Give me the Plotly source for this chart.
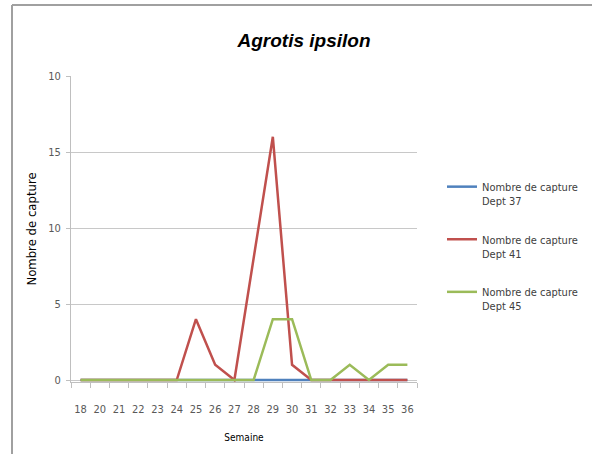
import plotly.graph_objects as go

weeks = ["18", "20", "21", "22", "23", "24", "25", "26", "27", "28",
         "29", "30", "31", "32", "33", "34", "35", "36"]
dept37 = [0, 0, 0, 0, 0, 0, 0, 0, 0, 0, 0, 0, 0, 0, 0, 0, 0, 0]
dept41 = [0, 0, 0, 0, 0, 0, 4, 1, 0, 8, 16, 1, 0, 0, 0, 0, 0, 0]
dept45 = [0, 0, 0, 0, 0, 0, 0, 0, 0, 0, 4, 4, 0, 0, 1, 0, 1, 1]
y_tickvals = [0, 5, 10, 15, 20]
y_ticktext = ["0", "5", "10", "15", "10"]

FONT = "DejaVu Sans Condensed, Liberation Sans, sans-serif"

fig = go.Figure()
series = [
    ("Nombre de capture<br>Dept 37", dept37, "#4f81bd", "g1"),
    ("Nombre de capture<br>Dept 41", dept41, "#c0504d", "g2"),
    ("Nombre de capture<br>Dept 45", dept45, "#9bbb59", "g3"),
]
for name, vals, col, grp in series:
    fig.add_trace(go.Scatter(
        x=weeks, y=vals, mode="lines", name=name, legendgroup=grp,
        line=dict(color=col, width=2.5),
    ))

W, H = 592, 454
L, T = 71, 76
PR, PB = 417, 382
R, B = W - PR, H - PB
pw, ph = PR - L, PB - T
YMIN, YMAX = -0.13, 20

def px(xr):
    return (xr - L) / pw

def py(yr):
    return (PB - yr) / ph

fig.update_layout(
    width=W, height=H,
    margin=dict(l=L, r=R, t=T, b=B, autoexpand=False),
    paper_bgcolor="white", plot_bgcolor="white",
    font=dict(family=FONT, size=11, color="#595959"),
    title=dict(text="<b><i>Agrotis ipsilon</i></b>", x=px(304), xanchor="center",
               xref="paper", y=1 - 40 / H, yanchor="middle",
               font=dict(family="Liberation Sans, sans-serif", size=19, color="#000000")),
    showlegend=True,
    legend=dict(x=px(442), xanchor="left", y=py(173), yanchor="top",
                valign="top", tracegroupgap=21,
                font=dict(family=FONT, size=11, color="#404040"),
                bgcolor="rgba(0,0,0,0)"),
    xaxis=dict(type="category", range=[-0.5, len(weeks) - 0.5],
               showgrid=False, showline=True, linecolor="#bfbfbf", linewidth=1,
               ticks="outside", tickson="boundaries", ticklen=5, tickcolor="#bfbfbf",
               tickangle=0, ticklabelstandoff=17,
               tickfont=dict(size=11, color="#595959"),
               title=dict(text="Semaine", standoff=18,
                          font=dict(family=FONT, size=10, color="#000000"))),
    yaxis=dict(range=[YMIN, YMAX], tickvals=y_tickvals, ticktext=y_ticktext,
               showgrid=True, gridcolor="#c8c8c8", gridwidth=1,
               showline=True, linecolor="#bfbfbf", linewidth=1,
               ticks="outside", ticklen=4, tickcolor="#bfbfbf",
               zeroline=False, ticklabelstandoff=3,
               tickfont=dict(size=11, color="#595959"),
               title=dict(text="Nombre de capture", standoff=8,
                          font=dict(family=FONT, size=13, color="#000000"))),
    shapes=[
        dict(type="line", xref="paper", yref="paper",
             x0=px(12), x1=px(600), y0=py(5), y1=py(5),
             line=dict(color="#a0a0a0", width=2)),
        dict(type="line", xref="paper", yref="paper",
             x0=px(12), x1=px(12), y0=py(5), y1=py(470),
             line=dict(color="#a0a0a0", width=2)),
    ],
)

fig.write_html("out.html", config={"displayModeBar": False},
               post_script="document.body.style.margin='0';")
